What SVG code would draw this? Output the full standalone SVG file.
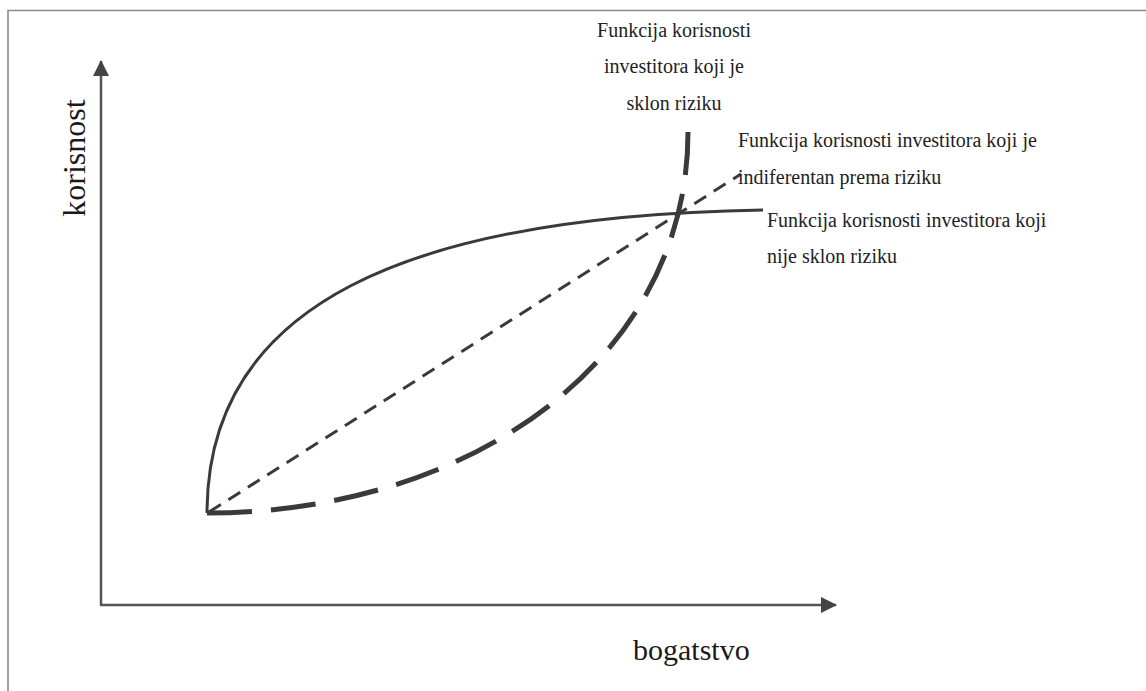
<svg xmlns="http://www.w3.org/2000/svg" width="1146" height="691" viewBox="0 0 1146 691">
  <style>
    .lbl { font-family: "Liberation Serif", "Times New Roman", serif; font-size: 20px; fill: #222; }
    .ax { font-family: "Liberation Serif", "Times New Roman", serif; fill: #1a1a1a; }
    .axis { stroke: #555; stroke-width: 2.5; fill: none; }
    .curve { stroke: #3a3a3a; fill: none; stroke-linecap: butt; }
  </style>
  <defs>
    <marker id="arrow" viewBox="0 0 16 16" refX="15" refY="8" markerWidth="16" markerHeight="16" markerUnits="userSpaceOnUse" orient="auto">
      <path d="M0,0 L16,8 L0,16 Z" fill="#444"/>
    </marker>
  </defs>
  <rect x="0" y="0" width="1146" height="691" fill="#fff"/>
  <g id="frame">
    <path d="M8,691 L8,10.5 L1146,10.5" stroke="#8a8a8a" stroke-width="1.6" fill="none"/>
  </g>
  <g id="axes">
    <path class="axis" d="M101,605 L101,61" marker-end="url(#arrow)"/>
    <path class="axis" d="M100,605 L836,605" marker-end="url(#arrow)"/>
    <text class="ax" font-family="Liberation Serif, serif" font-size="32" transform="translate(85,158) rotate(-90)" text-anchor="middle">korisnost</text>
    <text class="ax" font-family="Liberation Serif, serif" font-size="30" x="633" y="660">bogatstvo</text>
  </g>
  <g id="connectors">
    <path id="risk-averse" class="curve" stroke-width="3" d="M207,513 C207,305 405,216 763,210"/>
    <path id="risk-neutral" class="curve" stroke-width="3" stroke-dasharray="14,9" d="M209,512 L741,174"/>
    <path id="risk-seeking" class="curve" stroke-width="5" stroke-dasharray="45,19" d="M207,513 C470,513 688,360 688,132"/>
  </g>
  <g id="label-seeking" font-family="Liberation Serif, serif">
    <text class="lbl" x="674" y="37" text-anchor="middle">Funkcija korisnosti</text>
    <text class="lbl" x="674" y="73" text-anchor="middle">investitora koji je</text>
    <text class="lbl" x="674" y="110" text-anchor="middle">sklon riziku</text>
  </g>
  <g id="label-neutral" font-family="Liberation Serif, serif">
    <text class="lbl" x="738" y="147">Funkcija korisnosti investitora koji je</text>
    <text class="lbl" x="738" y="184">indiferentan prema riziku</text>
  </g>
  <g id="label-averse" font-family="Liberation Serif, serif">
    <text class="lbl" x="767" y="227">Funkcija korisnosti investitora koji</text>
    <text class="lbl" x="767" y="263">nije sklon riziku</text>
  </g>
</svg>
